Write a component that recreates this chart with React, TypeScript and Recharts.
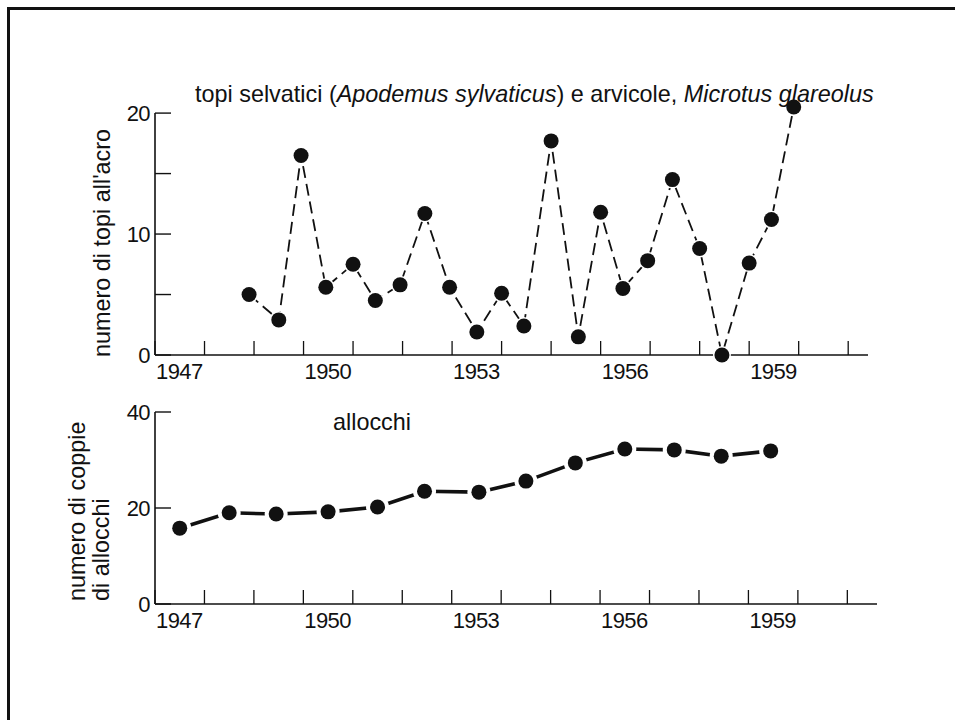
import React from 'react';
import { LineChart, Line, XAxis, YAxis, ReferenceLine } from 'recharts';

// topi selvatici e arvicole: numero per acro, campionamenti semestrali
const miceYears = [
  1948.9, 1949.5, 1949.95, 1950.45, 1951, 1951.45, 1951.95, 1952.45, 1952.95, 1953.5, 1954, 1954.45,
  1955, 1955.55, 1956, 1956.45, 1956.95, 1957.45, 1958, 1958.45, 1959, 1959.45, 1959.9,
];
const miceCounts = [
  5.0, 2.9, 16.5, 5.6, 7.5, 4.5, 5.8, 11.7, 5.6, 1.9, 5.1, 2.4,
  17.7, 1.5, 11.8, 5.5, 7.8, 14.5, 8.8, 0, 7.6, 11.2, 20.5,
];

// allocchi: coppie nidificanti per anno
const owlYears = [1947.5, 1948.5, 1949.45, 1950.5, 1951.5, 1952.45, 1953.55, 1954.5, 1955.5, 1956.5, 1957.5, 1958.45, 1959.45];
const owlPairs = [15.8, 19.0, 18.75, 19.2, 20.2, 23.5, 23.3, 25.6, 29.4, 32.3, 32.1, 30.8, 31.9];

const yearTicks = [1947, 1948, 1949, 1950, 1951, 1952, 1953, 1954, 1955, 1956, 1957, 1958, 1959, 1960, 1961];
const yearLabels = [1947, 1950, 1953, 1956, 1959];
const miceTicks = [0, 5, 10, 15, 20];
const miceLabels = [0, 10, 20];
const owlTicks = [0, 20, 40];

const miceData = miceYears.map((t, i) => ({ t, n: miceCounts[i] }));
const owlData = owlYears.map((t, i) => ({ t, n: owlPairs[i] }));

const INK = '#111';
const FONT = '"Liberation Sans", Arial, Helvetica, sans-serif';

const YTick = ({ x, y, payload, labels }: any) => (
  <g>
    <line x1={x} x2={x + 16} y1={y} y2={y} stroke={INK} strokeWidth={1.4} />
    {labels.includes(payload.value) && (
      <text x={x - 5} y={y} dy="0.36em" textAnchor="end" fontSize={22} letterSpacing={-0.6} fontFamily={FONT} fill={INK}>
        {payload.value}
      </text>
    )}
  </g>
);

const XTick = ({ x, y, payload }: any) => (
  <g>
    <line x1={x} x2={x} y1={y} y2={y - 14} stroke={INK} strokeWidth={1.3} />
    {yearLabels.includes(payload.value) && (
      <text x={x + 1} y={y + 24} textAnchor="start" fontSize={22} letterSpacing={-0.6} fontFamily={FONT} fill={INK}>
        {payload.value}
      </text>
    )}
  </g>
);

const HaloDot = ({ cx, cy, halo }: any) => (
  <g>
    <circle cx={cx} cy={cy} r={7.5 + halo} fill="#fff" />
    <circle cx={cx} cy={cy} r={7.5} fill={INK} />
  </g>
);

export default function App() {
  return (
    <div style={{ position: 'absolute', left: 0, top: 0, width: 955, height: 720, overflow: 'hidden', background: '#fff' }}>
      <div
        style={{
          position: 'absolute', left: 7, top: 7, width: 948, height: 713, boxSizing: 'border-box',
          borderLeft: `3px solid ${INK}`, borderTop: `3px solid ${INK}`,
        }}
      />

      <div style={{ position: 'absolute', left: 0, top: 0 }}>
        <LineChart width={955} height={400} data={miceData} margin={{ top: 101, right: 87, bottom: 15, left: 95 }}>
          <XAxis
            dataKey="t" type="number" domain={[1947, 1961.4]} ticks={yearTicks} interval={0} height={30}
            axisLine={{ stroke: INK, strokeWidth: 1.6 }} tickLine={false} tickSize={0} tickMargin={0}
            tick={(p: any) => <XTick {...p} />}
          />
          <YAxis
            type="number" domain={[0, 21]} ticks={miceTicks} interval={0} width={60}
            axisLine={false} tickLine={false} tickSize={0} tickMargin={0}
            tick={(p: any) => <YTick {...p} labels={miceLabels} />}
          />
          <ReferenceLine
            segment={[{ x: 1947, y: 0 }, { x: 1947, y: 20 }]}
            stroke={INK} strokeWidth={1.6} ifOverflow="visible"
          />
          <Line
            dataKey="n" stroke={INK} strokeWidth={1.8} strokeDasharray="12 6" isAnimationActive={false}
            dot={(p: any) => <HaloDot key={p.index} cx={p.cx} cy={p.cy} halo={1.5} />}
          />
        </LineChart>
      </div>

      <div style={{ position: 'absolute', left: 0, top: 380 }}>
        <LineChart width={955} height={280} data={owlData} margin={{ top: 32, right: 78, bottom: 26, left: 95 }}>
          <XAxis
            dataKey="t" type="number" domain={[1947, 1961.6]} ticks={yearTicks} interval={0} height={30}
            axisLine={{ stroke: INK, strokeWidth: 1.6 }} tickLine={false} tickSize={0} tickMargin={0}
            tick={(p: any) => <XTick {...p} />}
          />
          <YAxis
            type="number" domain={[0, 40]} ticks={owlTicks} interval={0} width={60}
            axisLine={{ stroke: INK, strokeWidth: 1.6 }} tickLine={false} tickSize={0} tickMargin={0}
            tick={(p: any) => <YTick {...p} labels={owlTicks} />}
          />
          <Line
            dataKey="n" stroke={INK} strokeWidth={3.6} isAnimationActive={false}
            dot={(p: any) => <HaloDot key={p.index} cx={p.cx} cy={p.cy} halo={4} />}
          />
        </LineChart>
      </div>

      <svg width={955} height={720} style={{ position: 'absolute', left: 0, top: 0, pointerEvents: 'none' }}>
        <g fontFamily={FONT} fontSize={23.4} fill={INK}>
          <text x={195} y={102}>
            {'topi selvatici ('}
            <tspan fontStyle="italic">Apodemus sylvaticus</tspan>
            {') e arvicole, '}
            <tspan fontStyle="italic">Microtus glareolus</tspan>
          </text>
          <text transform="translate(110,357) rotate(-90)">numero di topi all'acro</text>
          <text x={333} y={430}>allocchi</text>
          <text transform="translate(85,601) rotate(-90)">numero di coppie</text>
          <text transform="translate(109,601) rotate(-90)">di allocchi</text>
        </g>
      </svg>
    </div>
  );
}
